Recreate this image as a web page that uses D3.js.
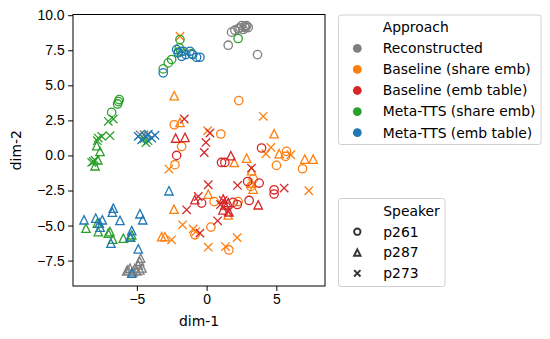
<!DOCTYPE html>
<html>
<head>
<meta charset="utf-8">
<script src="https://cdn.jsdelivr.net/npm/d3@7"></script>
<style>
  body { margin: 0; background: #fff; }
  svg { font-family: "DejaVu Sans", sans-serif; }
  .axis text { font-size: 13.9px; fill: #000; }
  .axis path, .axis line { stroke: #000; stroke-width: 1; }
</style>
</head>
<body>
<svg width="550" height="339"></svg>
<script>
// categories
var approaches = ["Reconstructed", "Baseline (share emb)", "Baseline (emb table)", "Meta-TTS (share emb)", "Meta-TTS (emb table)"];
var speakers = ["p261", "p287", "p273"];
var palette = ["#7f7f7f", "#ff7f0e", "#d62728", "#2ca02c", "#1f77b4"];

var xTicks = [-5, 0, 5];
var yTicks = [-7.5, -5, -2.5, 0, 2.5, 5, 7.5, 10];

// points per approach / speaker, [dim-1, dim-2]
var reconstructedP261 = [[1.79,8.79],[2.03,8.93],[2.26,9.03],[2.51,9.26],[2.74,9.21],[2.87,9.26],[2.98,9.12],[2.62,8.98],[2.4,9.1],[2.8,9.1],[1.55,7.86],[3.65,7.19]];
var reconstructedP287 = [[-5.73,-8.24],[-5.49,-8.04],[-5.14,-8.04],[-4.90,-7.81],[-4.73,-7.33],[-4.78,-8.16],[-5.28,-8.31],[-5.0,-8.24],[-4.63,-8.02],[-5.64,-8.16],[-4.8,-7.55]];
var reconstructedP273 = [[-4.78,1.48],[-4.49,1.48],[-4.27,1.45]];

var baseShareP261 = [[-2.32,2.19],[-1.79,0.64],[-2.27,-0.66],[2.31,3.91],[1.02,1.53],[5.73,0.29],[5.66,-0.07],[5.01,-0.71],[6.88,-0.95],[3.34,-1.69],[3.17,-2.21],[0.54,-3.29],[2.26,-3.29],[0.31,-5.11],[1.6,-6.74],[-0.84,-5.66]];
var baseShareP287 = [[-2.32,4.26],[-1.91,2.36],[4.84,1.55],[-2.34,-3.83],[-3.22,-5.79],[-2.99,-5.79],[1.98,-0.5],[2.87,-0.19],[5.2,0.12],[7.04,-0.26],[7.64,-0.26],[3.22,-1.09],[3.34,-2.4],[0.12,-2.76],[1.55,-4.24],[3.22,-1.97]];
var baseShareP273 = [[-1.91,8.5],[4.06,2.79],[0.07,1.76],[4.61,0.57],[4.25,0.12],[6.04,0.05],[7.33,-2.52],[0.12,-6.54],[1.36,-6.5],[2.19,-5.86],[-2.70,-0.97],[-1.72,-4.95],[-0.96,-5.24],[-2.51,-6.02],[-0.77,-5.43]];

var baseTableP261 = [[3.94,0.53],[1.07,-0.5],[1.31,-0.5],[2.94,-1.86],[3.77,-1.97],[4.84,-2.45],[4.84,-2.75],[-0.36,-3.4],[3.05,-3.21],[-2.15,0.0],[1.9,-3.35],[2.2,-3.5]];
var baseTableP287 = [[-2.22,1.24],[-1.55,1.29],[-0.84,-3.16],[1.74,-0.02],[3.7,-3.52],[1.19,-3.11],[1.31,-3.52],[1.55,-3.36],[1.17,-3.88],[1.6,-4.02]];
var baseTableP273 = [[-1.6,2.6],[0.24,1.6],[-0.05,0.93],[-1.43,-3.88],[-0.17,0.21],[0.12,-2.09],[2.22,-2.14],[3.22,-0.9],[5.56,-2.33],[0.79,-4.66],[-0.48,-5.54],[-0.6,-2.93],[1.19,-3.21],[1.55,-4.0],[1.0,-3.5]];

var metaShareP261 = [[-3.11,6.17],[-2.75,6.6],[-2.51,6.84],[-2.03,7.36],[-1.96,7.67],[-1.84,7.41],[-1.07,7.26],[-1.91,8.26],[2.26,8.34],[-6.81,3.07],[-6.38,3.67],[-6.32,3.84],[-6.26,3.98]];
var metaShareP287 = [[-7.88,0.69],[-7.64,0.29],[-8.0,-0.74],[-7.8,-0.31],[-8.65,-5.19],[-7.84,-4.83],[-7.77,-5.43],[-7.05,-5.54],[-6.93,-5.43],[-6.73,-5.97],[-5.97,-5.9],[-5.44,-5.83],[-5.37,-5.66]];
var metaShareP273 = [[-7.77,1.24],[-7.52,1.36],[-6.93,1.41],[-7.05,2.43],[-6.69,2.6],[-7.84,1.05],[-8.12,-0.43],[-8.24,-0.5],[-8.0,-0.34],[-4.49,1.19],[-4.20,1.05],[-4.35,0.91]];

var metaTableP261 = [[-3.11,5.89],[-2.15,7.55],[-2.03,7.31],[-1.79,7.07],[-1.68,7.43],[-1.48,7.19],[-1.20,7.43],[-1.0,7.19],[-0.72,7.0],[-0.48,7.0]];
var metaTableP287 = [[-8.79,-4.59],[-7.95,-4.47],[-7.48,-4.59],[-7.64,-5.11],[-7.69,-4.83],[-6.69,-3.76],[-6.76,-4.04],[-6.21,-4.64],[-5.37,-5.36],[-5.49,-5.79],[-4.78,-4.16],[-4.58,-4.59],[-4.90,-6.66],[-6.86,-6.26],[-5.37,-8.40],[-2.70,-2.52]];
var metaTableP273 = [[-4.90,1.36],[-4.66,1.12],[-4.35,1.34],[-3.94,1.24],[-3.70,1.44],[-4.18,1.51]];

var seriesTable = [
    [reconstructedP261, reconstructedP287, reconstructedP273],
    [baseShareP261, baseShareP287, baseShareP273],
    [baseTableP261, baseTableP287, baseTableP273],
    [metaShareP261, metaShareP287, metaShareP273],
    [metaTableP261, metaTableP287, metaTableP273]
];

// flatten into long-form rows
var rows = [];
seriesTable.forEach(function (bySpeaker, a) {
    bySpeaker.forEach(function (pts, s) {
        pts.forEach(function (p) {
            rows.push({ approach: approaches[a], speaker: speakers[s], x: p[0], y: p[1] });
        });
    });
});

var margin = { left: 73, right: 225, top: 14.5, bottom: 53 };
var W = 550, H = 339;

var x = d3.scaleLinear().domain([-9.58, 8.49]).range([margin.left, W - margin.right]);
var y = d3.scaleLinear().domain([-9.31, 10.05]).range([H - margin.bottom, margin.top]);
var color = d3.scaleOrdinal().domain(approaches).range(palette);

var svg = d3.select("svg");

// marker paths, centred on 0,0
var R = 4.2;
function markerPath(speaker, r) {
    if (speaker === "p261") {
        return "M" + r + ",0A" + r + "," + r + " 0 1,1 " + (-r) + ",0A" + r + "," + r + " 0 1,1 " + r + ",0Z";
    }
    if (speaker === "p287") {
        return "M0," + (-r) + "L" + r + "," + r + "L" + (-r) + "," + r + "Z";
    }
    return "M" + (-r) + "," + (-r) + "L" + r + "," + r + "M" + (-r) + "," + r + "L" + r + "," + (-r);
}

var plot = svg.append("g");
plot.selectAll("path.pt")
    .data(rows)
    .enter().append("path")
    .attr("class", "pt")
    .attr("transform", function (d) { return "translate(" + x(d.x) + "," + y(d.y) + ")"; })
    .attr("d", function (d) { return markerPath(d.speaker, R); })
    .attr("fill", "none")
    .attr("stroke", function (d) { return color(d.approach); })
    .attr("stroke-width", 1.3);

// axes
var xAxis = svg.append("g")
    .attr("class", "axis")
    .attr("transform", "translate(0," + (H - margin.bottom) + ")")
    .call(d3.axisBottom(x).tickValues(xTicks).tickSize(4.9).tickPadding(3.5).tickSizeOuter(0).tickFormat(d3.format("d")));

var yAxis = svg.append("g")
    .attr("class", "axis")
    .attr("transform", "translate(" + margin.left + ",0)")
    .call(d3.axisLeft(y).tickValues(yTicks).tickSize(4.9).tickPadding(3.5).tickSizeOuter(0).tickFormat(d3.format(".1f")));
xAxis.select(".domain").remove();
yAxis.select(".domain").remove();

// frame
svg.append("rect")
    .attr("x", margin.left).attr("y", margin.top)
    .attr("width", W - margin.right - margin.left)
    .attr("height", H - margin.bottom - margin.top)
    .attr("fill", "none").attr("stroke", "#000").attr("stroke-width", 1);

svg.append("text")
    .attr("x", (margin.left + W - margin.right) / 2).attr("y", 326)
    .attr("text-anchor", "middle").attr("font-size", "13.9px")
    .text("dim-1");

svg.append("text")
    .attr("transform", "translate(21," + ((margin.top + H - margin.bottom) / 2) + ") rotate(-90)")
    .attr("text-anchor", "middle").attr("font-size", "13.9px")
    .text("dim-2");

// legends
function legendBox(x0, y0, w, h) {
    svg.append("rect")
        .attr("x", x0).attr("y", y0).attr("width", w).attr("height", h)
        .attr("rx", 2.5).attr("fill", "#fff").attr("stroke", "#d0d0d0").attr("stroke-width", 1);
}

legendBox(338.5, 15, 202.5, 129.5);
svg.append("text").attr("x", 382.7).attr("y", 27).attr("dy", "0.35em")
    .attr("font-size", "13.9px").text("Approach");
approaches.forEach(function (a, i) {
    var cy = 48.3 + i * 21.1;
    svg.append("circle").attr("cx", 357.3).attr("cy", cy).attr("r", 4.4).attr("fill", color(a));
    svg.append("text").attr("x", 382.7).attr("y", cy).attr("dy", "0.35em")
        .attr("font-size", "13.9px").text(a);
});

legendBox(338.5, 198.5, 106.5, 88);
svg.append("text").attr("x", 383.3).attr("y", 210.7).attr("dy", "0.35em")
    .attr("font-size", "13.9px").text("Speaker");
speakers.forEach(function (s, i) {
    var cy = 231.7 + i * 20.8;
    svg.append("path")
        .attr("transform", "translate(357.3," + cy + ")")
        .attr("d", markerPath(s, 3.2))
        .attr("fill", "none").attr("stroke", "#333").attr("stroke-width", 1.9);
    svg.append("text").attr("x", 383.3).attr("y", cy).attr("dy", "0.35em")
        .attr("font-size", "13.9px").text(s);
});
</script>
</body>
</html>
